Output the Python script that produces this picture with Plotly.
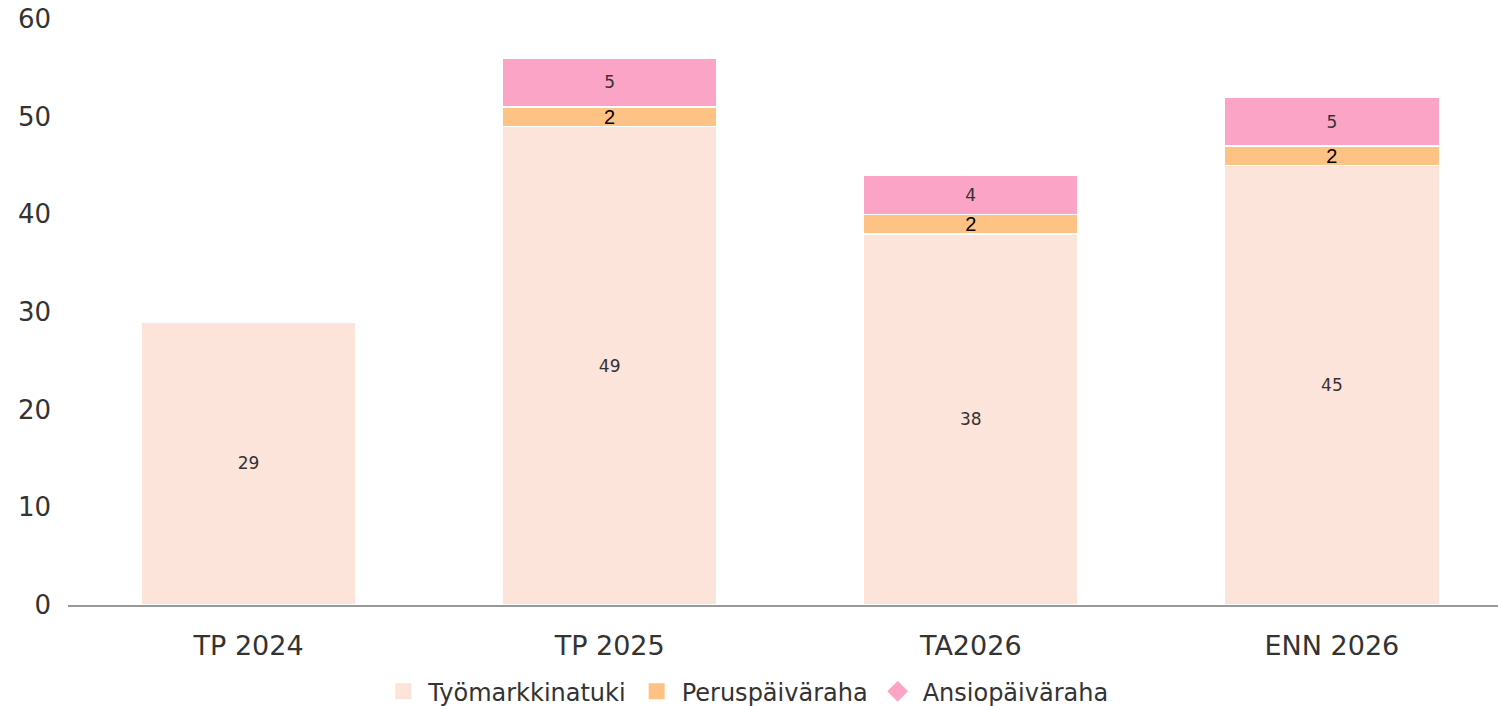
import plotly.graph_objects as go

categories = ["TP 2024", "TP 2025", "TA2026", "ENN 2026"]
tyomarkkinatuki = [29, 49, 38, 45]
peruspaivaraha = [None, 2, 2, 2]
ansiopaivaraha = [None, 5, 4, 5]
y_ticks = [0, 10, 20, 30, 40, 50, 60]

c_tyo = "#FCE4DA"
c_per = "#FFC285"
c_ans = "#FBA4C6"
FONT = "DejaVu Sans, sans-serif"

fig = go.Figure()
common = dict(width=0.595, marker_line_color="white", marker_line_width=1.5,
              textposition="inside", insidetextanchor="middle", textangle=0,
              constraintext="none", showlegend=False, hoverinfo="skip")
fig.add_bar(x=categories, y=tyomarkkinatuki, name="Työmarkkinatuki",
            marker_color=c_tyo, text=tyomarkkinatuki,
            textfont=dict(family=FONT, size=17, color="#333"), **common)
fig.add_bar(x=categories, y=peruspaivaraha, name="Peruspäiväraha",
            marker_color=c_per, text=peruspaivaraha,
            textfont=dict(family="Liberation Sans, Arial, sans-serif", size=20, color="#000"), **common)
fig.add_bar(x=categories, y=ansiopaivaraha, name="Ansiopäiväraha",
            marker_color=c_ans, text=ansiopaivaraha,
            textfont=dict(family=FONT, size=17, color="#333"), **common)

# legend entries
for name, col, sym in [("Työmarkkinatuki", c_tyo, "square"),
                       ("Peruspäiväraha", c_per, "square"),
                       ("Ansiopäiväraha", c_ans, "diamond")]:
    fig.add_scatter(x=[None], y=[None], mode="markers", name=name,
                    marker=dict(color=col, symbol=sym, size=17))

fig.update_layout(
    barmode="stack",
    width=1498, height=706,
    margin=dict(l=68, r=0, t=19, b=101, autoexpand=False),
    plot_bgcolor="white", paper_bgcolor="white",
    font=dict(family=FONT, color="#333"),
    legend=dict(orientation="h", x=0.474, xanchor="center", y=-0.148, yanchor="middle",
                font=dict(size=24, color="#333"), itemwidth=40, traceorder="normal"),
    xaxis=dict(range=[-0.5, 3.46], showgrid=False, showline=True, linecolor="#999",
               linewidth=1.5, ticks="", tickfont=dict(size=27, color="#333"),
               ticklabelstandoff=16, automargin=False),
    yaxis=dict(range=[0, 60], tickvals=y_ticks, showgrid=False, zeroline=False,
               showline=False, ticks="", tickfont=dict(size=26, color="#333"),
               ticklabelstandoff=16, automargin=False, ticklabeloverflow="allow"),
)
fig.write_html("out.html", config={"displayModeBar": False},
               post_script="document.body.style.margin='0';document.body.style.overflow='hidden';")
